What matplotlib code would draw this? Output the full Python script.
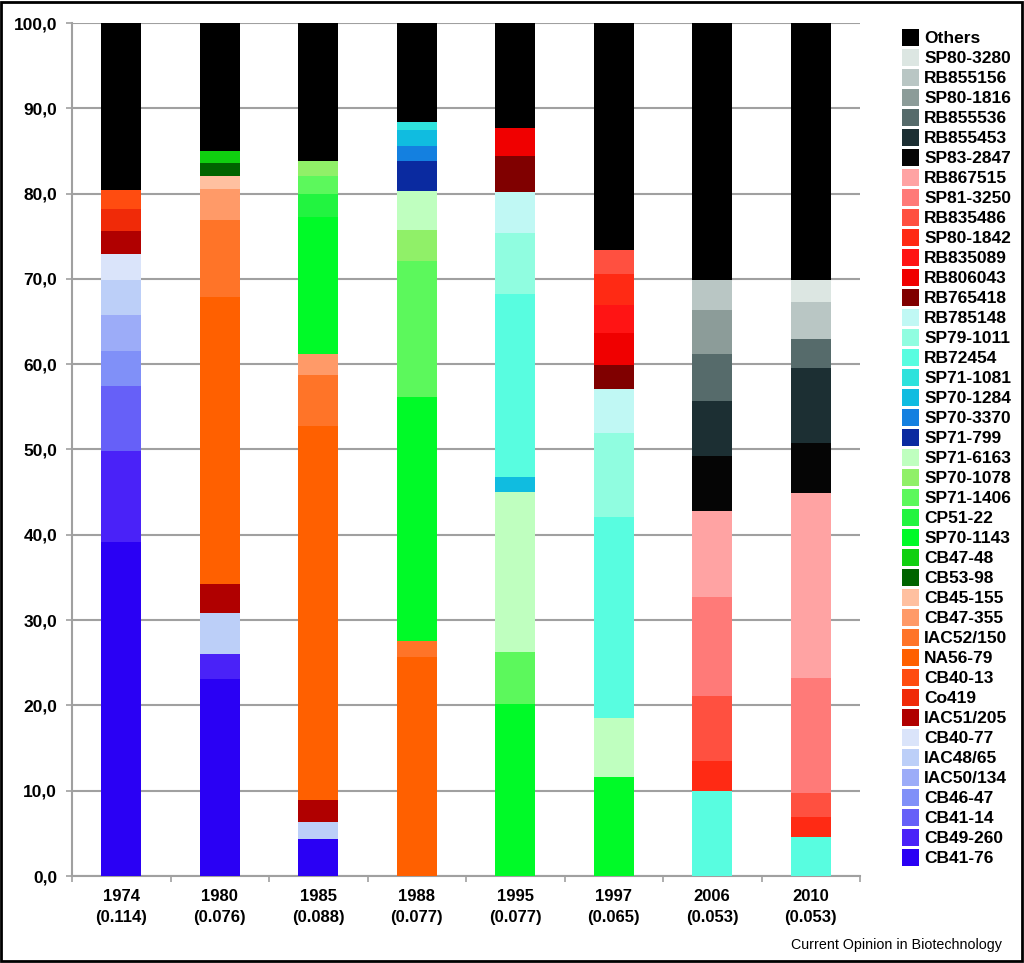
import matplotlib
matplotlib.use("Agg")
import matplotlib.pyplot as plt
from matplotlib.patches import Patch, Rectangle
import numpy as np

plt.rcParams["font.family"] = ["Liberation Sans", "DejaVu Sans"]
plt.rcParams["font.weight"] = "bold"

# ---------------------------------------------------------------------------
# Data (share of planted area, %)

years = ["1974", "1980", "1985", "1988", "1995", "1997", "2006", "2010"]
diversity = ["0.114", "0.076", "0.088", "0.077", "0.077", "0.065", "0.053", "0.053"]

# stacking order, bottom to top
varieties = [
    "CB41-76", "CB49-260", "CB41-14", "CB46-47", "IAC50/134", "IAC48/65",
    "CB40-77", "IAC51/205", "Co419", "CB40-13", "NA56-79", "IAC52/150",
    "CB47-355", "CB45-155", "CB53-98", "CB47-48", "SP70-1143", "CP51-22",
    "SP71-1406", "SP70-1078", "SP71-6163", "SP71-799", "SP70-3370",
    "SP70-1284", "SP71-1081", "RB72454", "SP79-1011", "RB785148",
    "RB765418", "RB806043", "RB835089", "SP80-1842", "RB835486",
    "SP81-3250", "RB867515", "SP83-2847", "RB855453", "RB855536",
    "SP80-1816", "RB855156", "SP80-3280", "Others",
]

colors = [
    "#2a00f4", "#4a22f8", "#6660f8", "#8090f8", "#9cacf8", "#bccff8",
    "#dae4fa", "#b00000", "#f02a08", "#ff4c10", "#ff6000", "#ff7428",
    "#ff9a68", "#ffc0a0", "#006400", "#10d010", "#00fa28", "#22f440",
    "#5cf85c", "#90f068", "#bfffbf", "#0a2aa0", "#1480e0",
    "#10bce0", "#2ee2dc", "#58fde0", "#90fde0", "#c0f8f4",
    "#800000", "#f00000", "#ff1414", "#ff2a14", "#ff5040",
    "#ff7a78", "#ffa3a3", "#050505", "#1c2f33", "#566b6b",
    "#8c9c99", "#b9c6c4", "#dce6e2", "#000000",
]

share_1974 = {"CB41-76": 39.1, "CB49-260": 10.7, "CB41-14": 7.6, "CB46-47": 4.2,
              "IAC50/134": 4.2, "IAC48/65": 4.1, "CB40-77": 3.0, "IAC51/205": 2.7,
              "Co419": 2.6, "CB40-13": 2.2, "Others": 19.6}
share_1980 = {"CB41-76": 23.1, "CB49-260": 2.9, "IAC48/65": 4.8, "IAC51/205": 3.4,
              "NA56-79": 33.7, "IAC52/150": 9.0, "CB47-355": 3.6, "CB45-155": 1.6,
              "CB53-98": 1.5, "CB47-48": 1.4, "Others": 15.0}
share_1985 = {"CB41-76": 4.3, "IAC48/65": 2.0, "IAC51/205": 2.6, "NA56-79": 43.8,
              "IAC52/150": 6.0, "CB47-355": 2.5, "SP70-1143": 16.1, "CP51-22": 2.7,
              "SP71-1406": 2.1, "SP70-1078": 1.7, "Others": 16.2}
share_1988 = {"NA56-79": 25.7, "IAC52/150": 1.9, "SP70-1143": 28.6, "SP71-1406": 15.9,
              "SP70-1078": 3.6, "SP71-6163": 4.6, "SP71-799": 3.5, "SP70-3370": 1.8,
              "SP70-1284": 1.9, "SP71-1081": 0.9, "Others": 11.6}
share_1995 = {"SP70-1143": 20.2, "SP71-1406": 6.1, "SP71-6163": 18.7, "SP70-1284": 1.8,
              "RB72454": 21.4, "SP79-1011": 7.2, "RB785148": 4.8, "RB765418": 4.2,
              "RB806043": 3.3, "Others": 12.3}
share_1997 = {"SP70-1143": 11.6, "SP71-6163": 6.9, "RB72454": 23.6, "SP79-1011": 9.8,
              "RB785148": 5.2, "RB765418": 2.8, "RB806043": 3.8, "RB835089": 3.2,
              "SP80-1842": 3.7, "RB835486": 2.8, "Others": 26.6}
share_2006 = {"RB72454": 10.0, "SP80-1842": 3.5, "RB835486": 7.6, "SP81-3250": 11.6,
              "RB867515": 10.1, "SP83-2847": 6.4, "RB855453": 6.5, "RB855536": 5.5,
              "SP80-1816": 5.2, "RB855156": 3.5, "Others": 30.1}
share_2010 = {"RB72454": 4.6, "SP80-1842": 2.3, "RB835486": 2.8, "SP81-3250": 13.5,
              "RB867515": 21.7, "SP83-2847": 5.9, "RB855453": 8.8, "RB855536": 3.3,
              "RB855156": 4.4, "SP80-3280": 2.6, "Others": 30.1}

shares = [share_1974, share_1980, share_1985, share_1988,
          share_1995, share_1997, share_2006, share_2010]

# ---------------------------------------------------------------------------
# Plot

fig = plt.figure(figsize=(10.24, 9.63), dpi=100)
ax = fig.add_axes([72 / 1024, 1 - 876 / 963, (860 - 72) / 1024, (876 - 23) / 963])

x = np.arange(len(years))
bottom = np.zeros(len(years))
for name, col in zip(varieties, colors):
    vals = np.array([s.get(name, 0.0) for s in shares])
    ax.bar(x, vals, width=0.41, bottom=bottom, color=col, linewidth=0, zorder=3)
    bottom += vals

grid_col = "#a0a0a0"
ax.set_xlim(-0.5, len(years) - 0.5)
ax.set_ylim(0, 100)
ax.set_yticks(np.arange(0, 101, 10))
ax.set_yticklabels([f"{v:.1f}".replace(".", ",") for v in np.arange(0, 101, 10)],
                   fontsize=12.5, fontweight="bold")
ax.yaxis.grid(True, color=grid_col, linewidth=1.5, zorder=0)
ax.set_axisbelow(True)

ax.set_xticks(x)
ax.set_xticklabels([f"{y}\n({d})" for y, d in zip(years, diversity)],
                   fontsize=12, fontweight="bold", linespacing=1.5)
ax.tick_params(axis="x", length=0, pad=9)
ax.set_xticks(np.arange(-0.5, len(years)), minor=True)
ax.tick_params(axis="x", which="minor", length=4.3, color=grid_col, width=1.2)
ax.tick_params(axis="y", length=4.3, color=grid_col, width=1.2, pad=6.5)

for side in ("top", "right"):
    ax.spines[side].set_visible(False)
for side in ("left", "bottom"):
    ax.spines[side].set_color(grid_col)
    ax.spines[side].set_linewidth(1.5)

handles = [Patch(facecolor=c, edgecolor="none") for c in colors][::-1]
labels = varieties[::-1]
fig.legend(handles, labels, loc="upper left", bbox_to_anchor=(902 / 1024, 1 - 29 / 963),
           frameon=False, prop={"weight": "bold", "size": 12.5},
           handlelength=0.98, handleheight=1.13, handletextpad=0.3,
           labelspacing=0.15, borderpad=0, borderaxespad=0)

fig.text(1002 / 1024, 1 - 945 / 963, "Current Opinion in Biotechnology",
         ha="right", va="center", fontsize=10.3, fontweight="normal")

fig.patches.append(Rectangle((1 / 1024, 2 / 963), 1021 / 1024, 959 / 963,
                             transform=fig.transFigure, fill=False,
                             edgecolor="black", linewidth=2))

fig.savefig("out.png", dpi=100)
